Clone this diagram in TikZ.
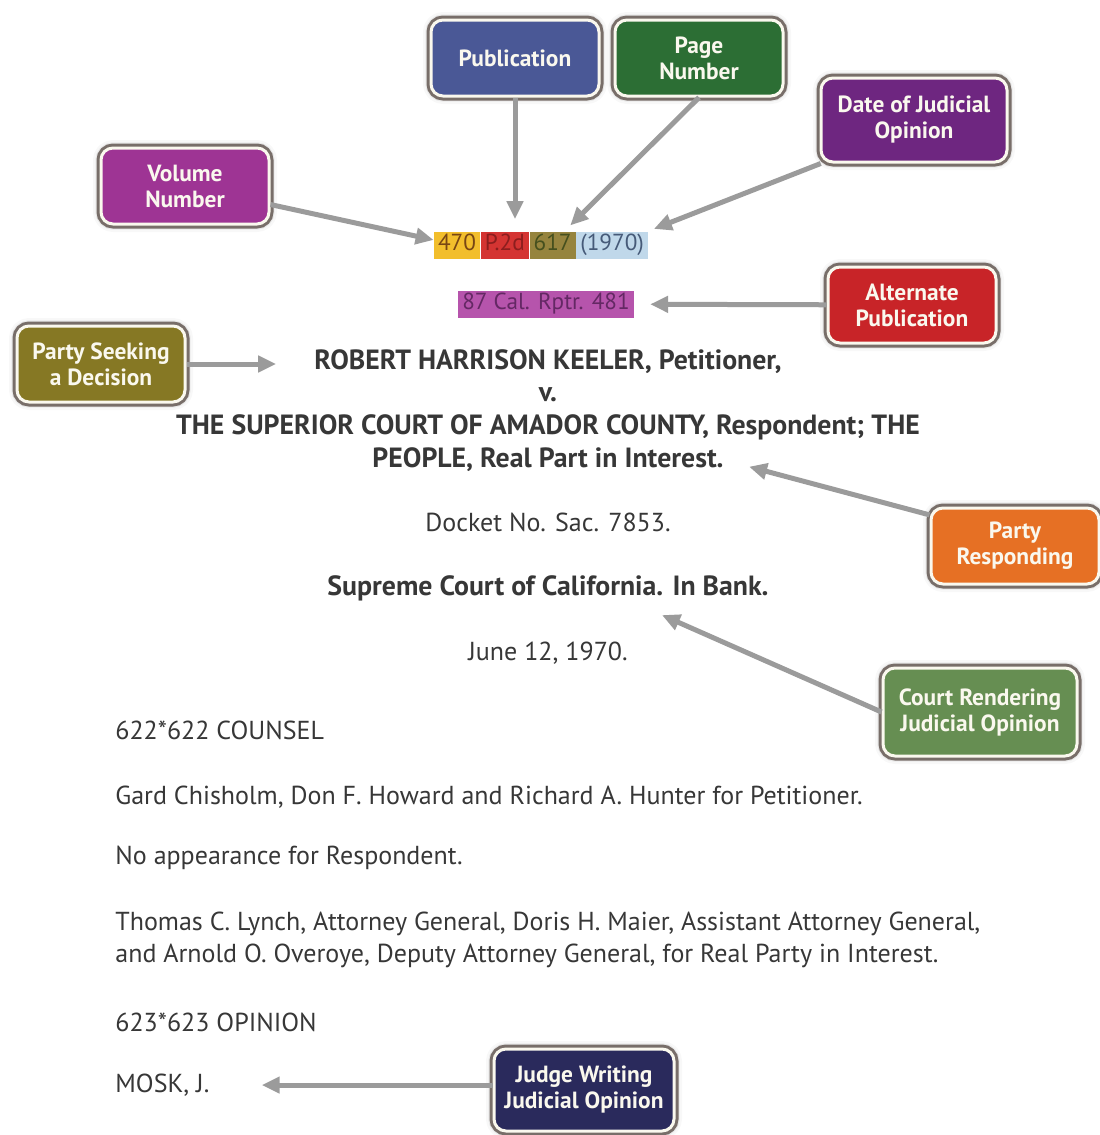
\documentclass[tikz,border=0pt]{standalone}
\usepackage{fontspec}
\setmainfont{PT Sans}
\usetikzlibrary{arrows.meta,positioning,shadows.blur}

\definecolor{inkgray}{RGB}{55,55,55}
\definecolor{arrowgray}{RGB}{155,155,155}
\definecolor{rimgray}{RGB}{120,110,105}
\definecolor{ringwhite}{RGB}{250,248,238}
\definecolor{pubblue}{RGB}{74,88,150}
\definecolor{pagegreen}{RGB}{44,110,52}
\definecolor{datepurple}{RGB}{110,38,128}
\definecolor{volmagenta}{RGB}{158,52,148}
\definecolor{seekolive}{RGB}{134,120,36}
\definecolor{altred}{RGB}{200,36,40}
\definecolor{resporange}{RGB}{230,112,36}
\definecolor{courtsage}{RGB}{102,142,82}
\definecolor{judgenavy}{RGB}{42,42,92}
\definecolor{hlyellow}{RGB}{242,190,44}
\definecolor{hlred}{RGB}{212,52,50}
\definecolor{hlolive}{RGB}{150,132,62}
\definecolor{hlblue}{RGB}{192,216,234}
\definecolor{hlpurple}{RGB}{182,84,172}

\begin{document}
\begin{tikzpicture}[%
    x=0.5pt, y=-0.5pt,          % one unit is one pixel of the page
    >={Triangle[length=9pt,width=8pt]},
    ]
% -------------------------------------------------
% Box and text styles
\tikzset{
  callout/.style={rounded corners=6pt, fill=#1, draw=ringwhite, line width=1.5pt,
    blur shadow={shadow xshift=0pt, shadow yshift=0pt, shadow blur radius=4pt,
      shadow opacity=45},
    preaction={draw=rimgray, line width=4.5pt},
    text=ringwhite, font=\bfseries\fontsize{11.7}{13}\selectfont,
    align=center, minimum width=84pt, minimum height=38pt, inner sep=2pt},
  cite/.style={fill=#1, inner xsep=2pt, inner ysep=0pt, text height=9.5pt,
    text depth=4pt, font=\fontsize{11.6}{13}\selectfont},
  bodytxt/.style={text=inkgray, inner sep=0pt, font=\fontsize{13}{15}\selectfont},
  bodybold/.style={bodytxt, font=\bfseries\fontsize{13.9}{16}\selectfont},
  % Connector line style
  pointer/.style={->, draw=arrowgray, line width=2.5pt},
}
\useasboundingbox (0,0) rectangle (1099,1135);
% -------------------------------------------------
% The citation
\node[cite=hlyellow, text={rgb,255:red,120;green,70;blue,20}] (c470) at (457,245) {470};
\node[cite=hlred, text={rgb,255:red,140;green,30;blue,30}, right=0pt of c470] (cP2d) {P.2d};
\node[cite=hlolive, text={rgb,255:red,70;green,80;blue,30}, right=0pt of cP2d] (c617) {617};
\node[cite=hlblue, text={rgb,255:red,70;green,90;blue,120}, right=0pt of c617] (c1970) {(1970)};
\node[cite=hlpurple, text={rgb,255:red,100;green,40;blue,100}] (rptr) at (546,304) {87 Cal. Rptr. 481};

% The case as it is printed
\node[bodybold] (keeler) at (548,362) {ROBERT HARRISON KEELER, Petitioner,};
\node[bodybold] (vs) at (548,395) {v.};
\node[bodybold] (amador) at (548,427) {THE SUPERIOR COURT OF AMADOR COUNTY, Respondent; THE};
\node[bodybold] (people) at (548,460) {PEOPLE, Real Part in Interest.};
\node[bodytxt] (docket) at (548,522) {Docket No. Sac. 7853.};
\node[bodybold] (supreme) at (548,588) {Supreme Court of California. In Bank.};
\node[bodytxt] (decided) at (548,653) {June 12, 1970.};
\node[bodytxt, anchor=west] (counsel) at (115,730) {622*622 COUNSEL};
\node[bodytxt, anchor=west] (gard) at (115,797) {Gard Chisholm, Don F. Howard and Richard A. Hunter for Petitioner.};
\node[bodytxt, anchor=west] (noapp) at (115,858) {No appearance for Respondent.};
\node[bodytxt, anchor=west] (lynch) at (115,924) {Thomas C. Lynch, Attorney General, Doris H. Maier, Assistant Attorney General,};
\node[bodytxt, anchor=west] (overoye) at (115,956) {and Arnold O. Overoye, Deputy Attorney General, for Real Party in Interest.};
\node[bodytxt, anchor=west] (opinion) at (115,1022) {623*623 OPINION};
\node[bodytxt, anchor=west] (mosk) at (115,1085) {MOSK, J.};

% -------------------------------------------------
% The labels
\node[callout=pubblue] (pub) at (515,58) {Publication};
\node[callout=pagegreen] (page) at (699,58) {Page\\Number};
\node[callout=datepurple, minimum width=93pt, minimum height=42pt] (dateop) at (914,120) {Date of Judicial\\Opinion};
\node[callout=volmagenta] (vol) at (185,186) {Volume\\Number};
\node[callout=seekolive] (seek) at (101,364) {Party Seeking\\a Decision};
\node[callout=altred] (alt) at (912,305) {Alternate\\Publication};
\node[callout=resporange] (resp) at (1015,546) {Party\\Responding};
\node[callout=courtsage, minimum width=97pt, minimum height=44pt] (courtop) at (980,712) {Court Rendering\\Judicial Opinion};
\node[callout=judgenavy, minimum width=90pt, minimum height=41pt] (judge) at (584,1090) {Judge Writing\\Judicial Opinion};

% -------------------------------------------------
% Pointers from the labels to the text
\draw[pointer] (vol) -- (c470);
\draw[pointer, shorten >=6pt] (pub) -- (pub |- cP2d.north);
\draw[pointer, shorten >=4pt] (page.south) -- ([xshift=6]c617.north);
\draw[pointer, shorten >=3pt] (dateop.205) -- (c1970.north east);
\draw[pointer, shorten >=8pt] (alt) -- (rptr);
\draw[pointer, shorten >=19pt] (seek) -- (seek -| keeler.west);
\draw[pointer, shorten >=13pt] (resp.160) -- (people.east);
\draw[pointer] (courtop.west) -- ([shift={(114,14)}]supreme.south);
\draw[pointer, shorten >=26pt] (judge.west |- mosk.east) -- (mosk.east);
\end{tikzpicture}
\end{document}
